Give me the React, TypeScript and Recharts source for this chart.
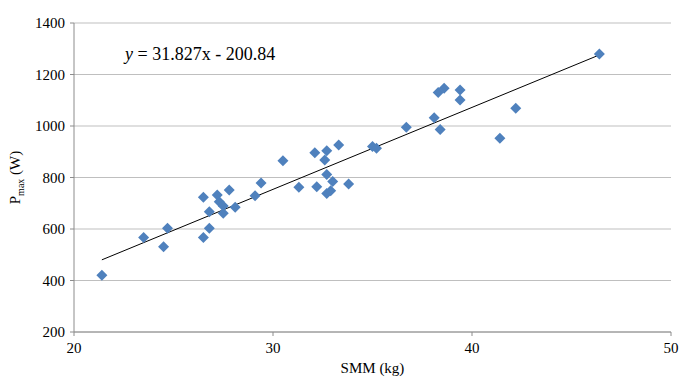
import { CartesianGrid, Label, ReferenceLine, Scatter, ScatterChart, XAxis, YAxis } from "recharts"

const smm = [
  21.4, 23.5, 24.5, 24.7, 26.5, 26.8, 26.5, 26.8, 27.2, 27.3, 27.5, 27.5, 27.8, 28.1, 29.1, 29.4, 30.5, 31.3, 32.1,
  32.2, 32.6, 32.7, 32.7, 33.0, 32.7, 32.9, 33.3, 33.8, 35.0, 35.2, 36.7, 38.1, 38.3, 38.6, 38.4, 39.4, 39.4, 41.4,
  42.2, 46.4,
]
const pmax = [
  420, 567, 531, 603, 567, 603, 723, 667, 732, 706, 689, 661, 751, 684, 729, 779, 865, 762, 896, 764, 868, 904, 812,
  784, 738, 749, 926, 775, 920, 914, 995, 1032, 1130, 1147, 986, 1140, 1101, 952, 1069, 1280,
]

const xTicks = [20, 30, 40, 50]
const yTicks = [200, 400, 600, 800, 1000, 1200, 1400]

// trendline from the fit shown on the chart
const slope = 31.827
const intercept = -200.84
const fitFrom = 21.4
const fitTo = 46.4

const data = smm.map((x, i) => ({ smm: x, pmax: pmax[i] }))

const font = "Liberation Serif"

const Diamond = (props: any) => {
  const { cx, cy } = props
  const r = 5.5
  return <path d={`M${cx},${cy - r}L${cx + r},${cy}L${cx},${cy + r}L${cx - r},${cy}Z`} fill="#4f81bd" />
}

const YTitle = (props: any) => {
  const { viewBox } = props
  const x = 20
  const y = viewBox.y + viewBox.height / 2
  return (
    <text
      x={x}
      y={y}
      transform={`rotate(-90, ${x}, ${y})`}
      textAnchor="middle"
      style={{ fontFamily: font, fontSize: 15 }}
      fill="#000"
    >
      <tspan>P</tspan>
      <tspan style={{ fontSize: 10 }} dy={4}>
        max
      </tspan>
      <tspan dy={-4}> (W)</tspan>
    </text>
  )
}

export default function App() {
  return (
    <div
      style={{
        position: "absolute",
        left: 0,
        top: 0,
        width: 681,
        height: 378,
        background: "#fff",
        fontFamily: font,
      }}
    >
      <ScatterChart width={681} height={378} margin={{ top: 23, right: 10, bottom: 0, left: 0 }} style={{ fontFamily: font }}>
        <CartesianGrid vertical={false} stroke="#bfbfbf" />
        <XAxis
          type="number"
          dataKey="smm"
          domain={[20, 50]}
          ticks={xTicks}
          height={46}
          stroke="#8c8c8c"
          tickSize={4}
          tickMargin={6}
          tick={{ fill: "#000", fontSize: 15, style: { fontFamily: font } }}
        >
          <Label
            value="SMM (kg)"
            position="bottom"
            offset={-16}
            fill="#000"
            fontSize={15}
            style={{ fontFamily: font }}
          />
        </XAxis>
        <YAxis
          type="number"
          dataKey="pmax"
          domain={[200, 1400]}
          ticks={yTicks}
          width={74}
          stroke="#8c8c8c"
          tickSize={4}
          tickMargin={5}
          tick={{ fill: "#000", fontSize: 15, style: { fontFamily: font } }}
        >
          <Label content={YTitle} />
        </YAxis>
        <ReferenceLine
          segment={[
            { x: fitFrom, y: slope * fitFrom + intercept },
            { x: fitTo, y: slope * fitTo + intercept },
          ]}
          stroke="#000"
          strokeWidth={1}
        />
        <Scatter data={data} shape={Diamond} isAnimationActive={false} />
      </ScatterChart>
      <div
        style={{
          position: "absolute",
          left: 125,
          top: 43,
          fontFamily: font,
          fontSize: 18,
          lineHeight: "22px",
          whiteSpace: "nowrap",
        }}
      >
        <i>y</i> = 31.827x - 200.84
      </div>
    </div>
  )
}
